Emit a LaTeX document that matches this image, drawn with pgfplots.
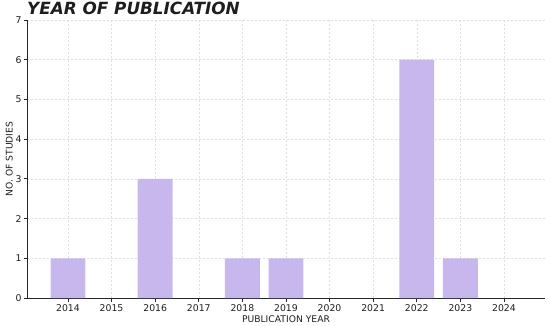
\documentclass[border=0pt]{standalone}
\usepackage{pgfplots}
\pgfplotsset{compat=1.18}
\usepackage{fontspec}
\setmainfont{DejaVu Sans}
\definecolor{barcol}{RGB}{199,183,236}
\definecolor{gridcol}{RGB}{222,222,222}
\definecolor{txt}{RGB}{30,30,30}
\begin{document}
\begin{tikzpicture}
\begin{axis}[
  scale only axis,
  width=518pt, height=278pt,
  at={(0,0)}, anchor=south west,
  xmin=2013.06, xmax=2024.94,
  ymin=0, ymax=7,
  xtick={2014,...,2024},
  ytick={0,...,7},
  xticklabel style={/pgf/number format/1000 sep={}},
  yticklabel style={xshift=1.5pt},
  /pgf/number format/assume math mode=true,
  axis lines*=left,
  axis line style={line width=0.8pt, black!85},
  tick style={black!85, line width=0.8pt},
  tick align=outside,
  major tick length=3.5pt,
  grid=major,
  major grid style={gridcol, dash pattern=on 2pt off 2pt, line width=0.5pt},
  ticklabel style={font=\fontsize{9.3}{11}\selectfont, text=txt},
  xlabel={PUBLICATION YEAR},
  ylabel={NO. OF STUDIES},
  label style={font=\fontsize{9.2}{11}\selectfont, text=txt},
  xlabel style={yshift=3pt},
  ylabel style={yshift=-4pt},
  title={\bfseries\itshape YEAR OF PUBLICATION},
  title style={at={(0,1)}, anchor=south west, font=\fontsize{16.8}{19}\selectfont, text=txt, inner sep=0pt, yshift=-1pt},
  ybar, bar width=0.8, bar shift=0pt,
]
\addplot[draw=none, fill=barcol] coordinates {
  (2014,1) (2016,3) (2018,1) (2019,1) (2022,6) (2023,1)
};
\end{axis}
\pgfresetboundingbox
\path[use as bounding box] (-27pt,-27pt) rectangle (523pt,298pt);
\end{tikzpicture}
\end{document}
